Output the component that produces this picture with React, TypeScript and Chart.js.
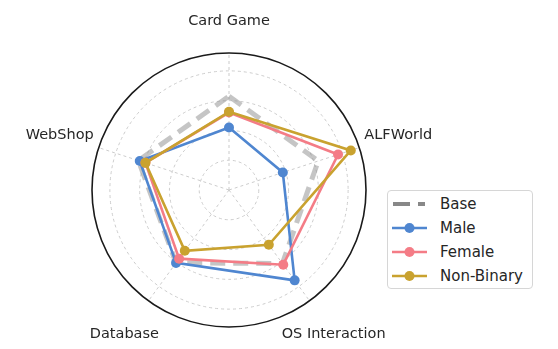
import React, { useEffect, useRef } from "react";
import { Chart, registerables } from "chart.js";

Chart.register(...registerables);

const categories = ["Card Game", "ALFWorld", "OS Interaction", "Database", "WebShop"];
const seriesNames = ["Base", "Male", "Female", "Non-Binary"];
const baseValues = [63, 63, 61, 60.5, 64];
const maleValues = [42, 38, 75, 60.5, 63];
const femaleValues = [52, 77, 62, 57, 59];
const nonBinaryValues = [52.5, 86, 45.5, 50.5, 59];
const scaleMax = 92;
const gridStep = 20;

const colors = {
  base: "rgba(140,140,140,0.5)",
  baseLegend: "#888888",
  male: "#4f86d0",
  female: "#f47c86",
  nonBinary: "#c9a22f",
};

const FONT = '"DejaVu Sans", "Liberation Sans", sans-serif';

const labelPlugin = {
  id: "customPointLabels",
  afterDraw(chart: any) {
    const scale = chart.scales.r;
    const ctx = chart.ctx;
    ctx.save();
    ctx.font = `14.5px ${FONT}`;
    ctx.fillStyle = "#262626";
    ctx.textAlign = "center";
    ctx.textBaseline = "middle";
    categories.forEach((label, i) => {
      const dist = scale.drawingArea + (i === 0 ? 32 : 41);
      const p = scale.getPointPosition(i, dist);
      ctx.fillText(label, p.x, p.y);
    });
    ctx.restore();
  },
};

const outerCirclePlugin = {
  id: "outerCircle",
  beforeDatasetsDraw(chart: any) {
    const scale = chart.scales.r;
    const ctx = chart.ctx;
    ctx.save();
    ctx.beginPath();
    ctx.arc(scale.xCenter, scale.yCenter, scale.getDistanceFromCenterForValue(scaleMax), 0, Math.PI * 2);
    ctx.strokeStyle = "#1a1a1a";
    ctx.lineWidth = 1.6;
    ctx.setLineDash([]);
    ctx.stroke();
    ctx.restore();
  },
};

function LegendSample({ kind, color }: { kind: string; color: string }) {
  if (kind === "dash") {
    return (
      <svg width={36} height={12} style={{ display: "block" }}>
        <line x1={1} y1={6} x2={18} y2={6} stroke={color} strokeWidth={4} />
        <line x1={26} y1={6} x2={33} y2={6} stroke={color} strokeWidth={4} />
      </svg>
    );
  }
  return (
    <svg width={36} height={12} style={{ display: "block" }}>
      <line x1={0} y1={6} x2={35} y2={6} stroke={color} strokeWidth={2.6} />
      <circle cx={17.5} cy={6} r={5} fill={color} />
    </svg>
  );
}

export default function App() {
  const canvasRef = useRef<HTMLCanvasElement | null>(null);

  useEffect(() => {
    if (!canvasRef.current) return;
    const lineDs = (label: string, data: number[], color: string, order: number) => ({
      label,
      data,
      borderColor: color,
      backgroundColor: color,
      pointBackgroundColor: color,
      pointBorderColor: color,
      pointBorderWidth: 0,
      pointRadius: 5,
      borderWidth: 2.6,
      fill: false,
      order,
    });
    const chart = new Chart(canvasRef.current, {
      type: "radar",
      data: {
        labels: categories,
        datasets: [
          {
            label: seriesNames[0],
            data: baseValues,
            borderColor: colors.base,
            backgroundColor: "transparent",
            borderWidth: 5,
            borderDash: [15, 8],
            pointRadius: 0,
            fill: false,
            order: 4,
          },
          lineDs(seriesNames[1], maleValues, colors.male, 3),
          lineDs(seriesNames[2], femaleValues, colors.female, 2),
          lineDs(seriesNames[3], nonBinaryValues, colors.nonBinary, 1),
        ],
      },
      options: {
        responsive: false,
        animation: false,
        events: [],
        layout: { padding: { left: 92, top: 53, right: 192, bottom: 22 } },
        plugins: {
          legend: { display: false },
          tooltip: { enabled: false },
          title: { display: false },
        },
        scales: {
          r: {
            min: 0,
            max: scaleMax,
            ticks: { display: false, stepSize: gridStep },
            grid: {
              circular: true,
              color: (ctx: any) =>
                ctx.tick && ctx.tick.value >= scaleMax ? "rgba(0,0,0,0)" : "#cccccc",
              lineWidth: 1,
            },
            border: { dash: [3, 3] },
            angleLines: { display: true, color: "#cccccc", lineWidth: 1, borderDash: [3, 3] },
            pointLabels: { display: false },
          },
        },
      } as any,
      plugins: [outerCirclePlugin, labelPlugin],
    });
    return () => chart.destroy();
  }, []);

  const legendItems = [
    { name: seriesNames[0], kind: "dash", color: colors.baseLegend },
    { name: seriesNames[1], kind: "line", color: colors.male },
    { name: seriesNames[2], kind: "line", color: colors.female },
    { name: seriesNames[3], kind: "line", color: colors.nonBinary },
  ];

  return (
    <div style={{ position: "absolute", left: 0, top: 0, width: 558, height: 349, background: "#fff" }}>
      <canvas ref={canvasRef} width={558} height={349} style={{ display: "block" }} />
      <div
        style={{
          position: "absolute",
          left: 387,
          top: 190,
          width: 144,
          height: 97,
          border: "1px solid #d6d6d6",
          borderRadius: 4,
          background: "#fff",
          fontFamily: FONT,
          fontSize: 15,
          color: "#262626",
        }}
      >
        {legendItems.map((it, i) => (
          <div
            key={it.name}
            style={{
              position: "absolute",
              left: 4,
              top: 4 + i * 24,
              height: 18,
              display: "flex",
              alignItems: "center",
              whiteSpace: "nowrap",
            }}
          >
            <LegendSample kind={it.kind} color={it.color} />
            <span style={{ marginLeft: 12, lineHeight: "18px" }}>{it.name}</span>
          </div>
        ))}
      </div>
    </div>
  );
}
